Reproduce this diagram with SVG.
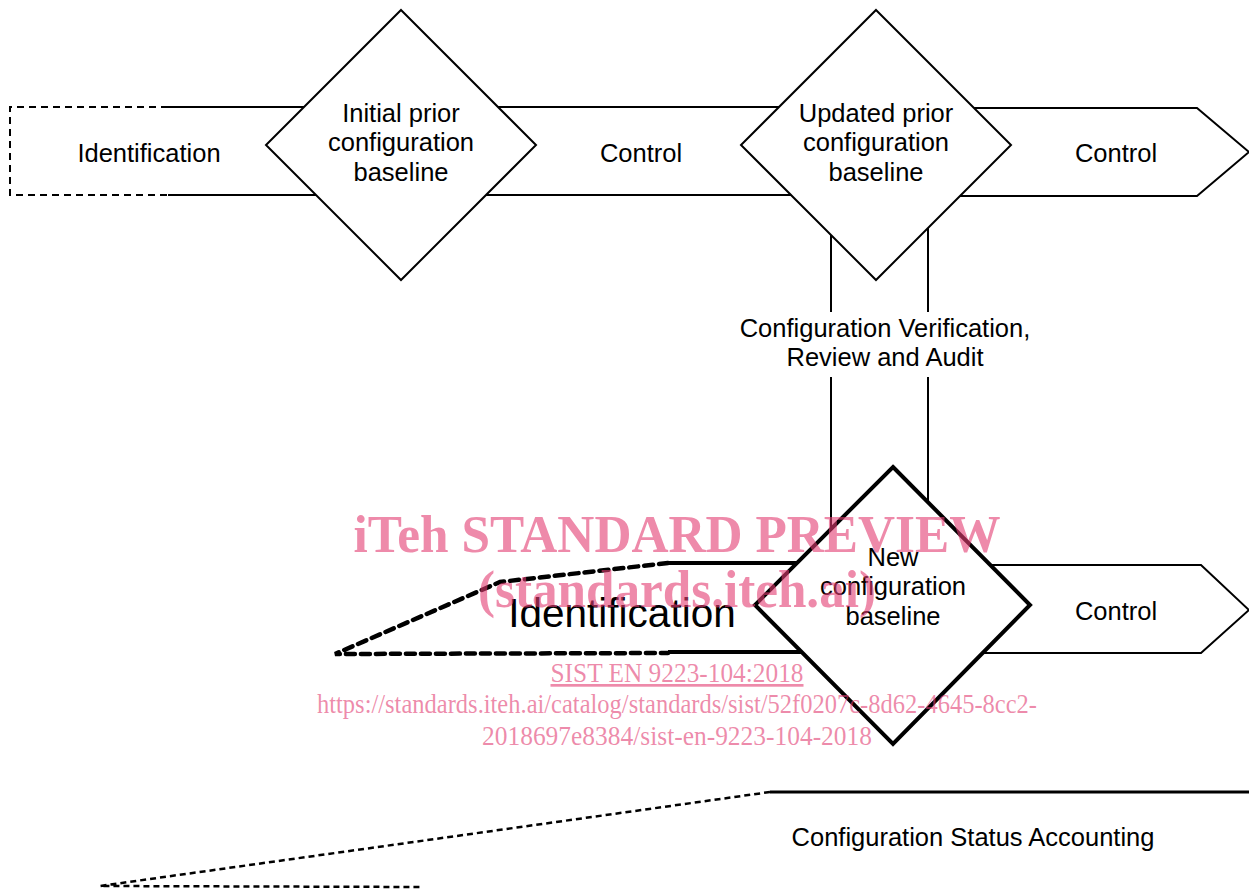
<svg xmlns="http://www.w3.org/2000/svg" width="1249" height="890" viewBox="0 0 1249 890">
<style>
.t{font-family:"Liberation Sans",Arial,sans-serif;font-size:25.5px;fill:#000;text-anchor:middle}
.thin{fill:none;stroke:#000;stroke-width:2}
.dm{fill:#fff;stroke:#000;stroke-width:2}
.dash{fill:none;stroke:#000;stroke-width:2;stroke-dasharray:7 5}
.thick{fill:none;stroke:#000;stroke-width:4}
.thickdash{fill:none;stroke:#000;stroke-width:4.5;stroke-dasharray:9 6;stroke-linecap:round}
.wm{font-family:"Liberation Serif","Times New Roman",serif;fill:#e23c72;fill-opacity:0.6;text-anchor:middle}
</style>
<rect width="1249" height="890" fill="#fff"/>
<g id="connectors">
<line class="thin" x1="831" y1="235" x2="831" y2="312"/>
<line class="thin" x1="831" y1="377" x2="831" y2="529"/>
<line class="thin" x1="928" y1="228" x2="928" y2="312"/>
<line class="thin" x1="928" y1="377" x2="928" y2="502"/>
</g>
<g id="identification-top">
<path class="dash" d="M168,107 H10 V195 H168"/>
<path class="thin" d="M168,107 H330 M168,195 H330"/>
<text class="t" x="149" y="162">Identification</text>
</g>
<g id="control-1">
<path class="thin" d="M470,107 H800 M470,195 H800"/>
<text class="t" x="641" y="162">Control</text>
</g>
<g id="control-2">
<path class="thin" d="M940,108 H1197 L1249,152 L1197,196 H940"/>
<text class="t" x="1116" y="162">Control</text>
</g>
<g id="initial-baseline">
<polygon class="dm" points="401,10 536,145 401,280 266,145"/>
<text class="t" x="401" y="122">Initial prior</text>
<text class="t" x="401" y="151">configuration</text>
<text class="t" x="401" y="181">baseline</text>
</g>
<g id="updated-baseline">
<polygon class="dm" points="876,10 1011,145 876,280 741,145"/>
<text class="t" x="876" y="122">Updated prior</text>
<text class="t" x="876" y="151">configuration</text>
<text class="t" x="876" y="181">baseline</text>
</g>
<g id="cvra-label">
<text class="t" x="885" y="337">Configuration Verification,</text>
<text class="t" x="885" y="366">Review and Audit</text>
</g>
<g id="identification-new">
<path class="thickdash" d="M668,563 L500,582 L335,654 L668,653"/>
<path class="thick" d="M668,563 H830 M668,652 H830"/>
<text class="t" x="622" y="627" style="font-size:40.5px">Identification</text>
</g>
<g id="control-3">
<path class="thin" d="M960,565 H1201 L1249,610 L1201,653 H960"/>
<text class="t" x="1116" y="620">Control</text>
</g>
<g id="new-baseline">
<polygon points="893,467 1030,605 893,744 755,605" fill="#fff" stroke="#000" stroke-width="4"/>
<text class="t" x="893" y="566">New</text>
<text class="t" x="893" y="595">configuration</text>
<text class="t" x="893" y="625">baseline</text>
</g>
<g id="csa">
<path fill="none" stroke="#000" stroke-width="2.5" stroke-dasharray="6 4" d="M770,792 L100,886 L420,887"/>
<line x1="770" y1="792" x2="1249" y2="792" stroke="#000" stroke-width="3"/>
<text class="t" x="973" y="846">Configuration Status Accounting</text>
</g>
<g id="watermark">
<text class="wm" x="677" y="552" style="font-size:52px;font-weight:bold" textLength="647" lengthAdjust="spacingAndGlyphs">iTeh STANDARD PREVIEW</text>
<text class="wm" x="677" y="607" style="font-size:52px;font-weight:bold" textLength="398" lengthAdjust="spacingAndGlyphs">(standards.iteh.ai)</text>
<text class="wm" x="677" y="682" style="font-size:27px;text-decoration:underline" textLength="253" lengthAdjust="spacingAndGlyphs">SIST EN 9223-104:2018</text>
<text class="wm" x="677" y="713" style="font-size:27px" textLength="720" lengthAdjust="spacingAndGlyphs">https://standards.iteh.ai/catalog/standards/sist/52f0207c-8d62-4645-8cc2-</text>
<text class="wm" x="677" y="745" style="font-size:27px" textLength="390" lengthAdjust="spacingAndGlyphs">2018697e8384/sist-en-9223-104-2018</text>
</g>
</svg>
